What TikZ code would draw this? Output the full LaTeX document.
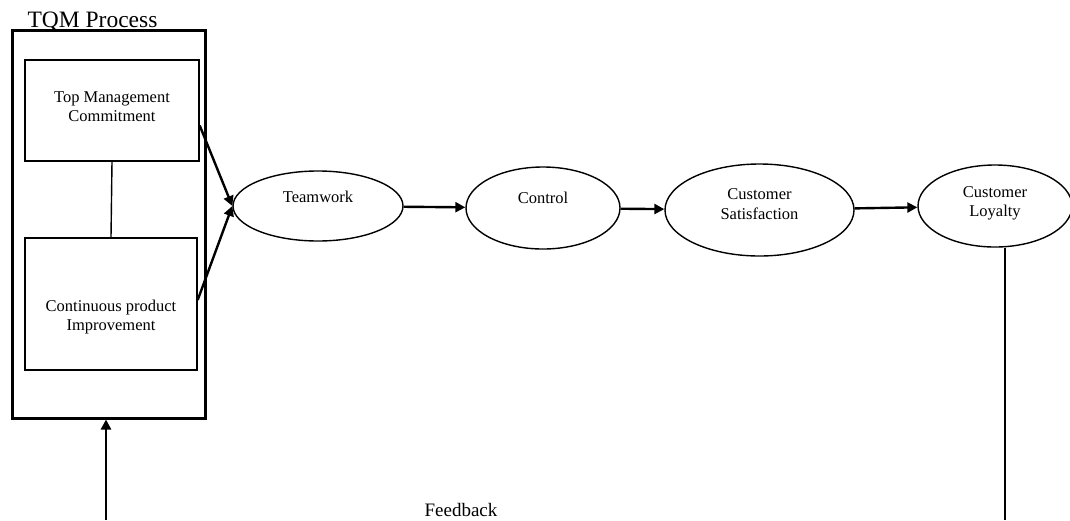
\documentclass[tikz,border=0pt]{standalone}
\usepackage{fontspec}
\setmainfont{Liberation Serif}
\usetikzlibrary{arrows.meta}
\usetikzlibrary{shapes.geometric}

\begin{document}
\begin{tikzpicture}[x=1pt,y=-1pt,
	box/.style={draw,line width=1.4pt,inner sep=0pt},
	oval/.style={draw,ellipse,line width=1.4pt,inner sep=0pt},
	txt/.style={font=\fontsize{16.5}{19.5}\selectfont,align=center},
	flow/.style={line width=2.4pt,-{Triangle[length=10pt,width=10pt]}}]
			\useasboundingbox (0,0) rectangle (1070,520);
			\node[draw,line width=3pt,minimum width=193pt,minimum height=388pt] (tqm) at (108.5,224) {};
			\node[anchor=base west,font=\fontsize{23.5}{26}\selectfont] (title) at (24,27) {TQM Process};
			\node[box,minimum width=174pt,minimum height=101pt,label={[txt,yshift=4pt]center:Top Management\\Commitment}] (top) at (112,110.5) {};
			\node[box,minimum width=172pt,minimum height=132pt,label={[txt,yshift=-13pt]center:Continuous product\\Improvement}] (bottom) at (111,304) {};
			\draw[line width=1.4pt] (top.south) -- (bottom.north);

			\node[oval,minimum width=170pt,minimum height=70pt,label={[txt,yshift=9pt]center:Teamwork}] (teamwork) at (318,206) {};
			\node[oval,minimum width=154pt,minimum height=82pt,label={[txt,yshift=10pt]center:Control}] (control) at (543,208) {};
			\node[oval,minimum width=189pt,minimum height=92pt,label={[txt,yshift=6pt]center:Customer\\Satisfaction}] (satisfaction) at (759.5,210) {};
			\node[oval,minimum width=154pt,minimum height=82pt,label={[txt,yshift=2.5pt]center:Customer\\Loyalty}] (loyalty) at (995,206) {};

			\draw[flow] ([yshift=-15pt]top.east) -- (teamwork.west);
			\draw[flow] ([yshift=4pt]bottom.east) -- (teamwork.west);
			\draw[flow] (teamwork) -- (control);
			\draw[flow] (control) -- (satisfaction);
			\draw[flow] (satisfaction) -- (loyalty);

			% feedback loop
			\coordinate (fbl) at (106,520);
			\coordinate (fbr) at (1005,520);
			\draw[line width=2.4pt] (loyalty.south -| fbr) -- (fbr);
			\draw[flow] (fbl) -- (fbl |- tqm.south);
			\node[font=\fontsize{19}{22}\selectfont] (feedback) at (461,510) {Feedback};

		\end{tikzpicture}
\end{document}
